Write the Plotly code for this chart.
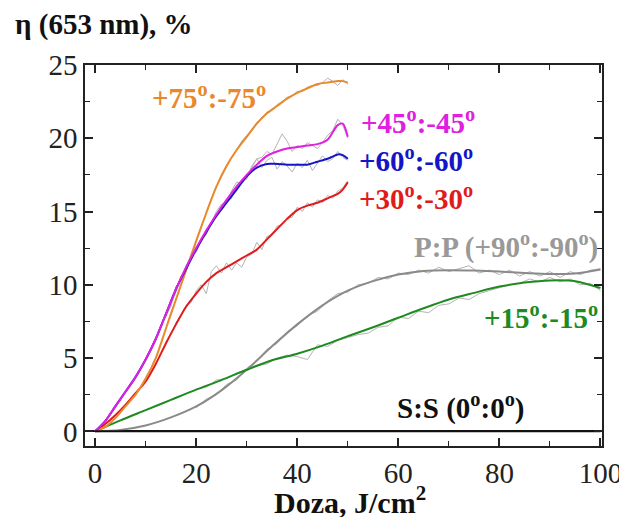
import plotly.graph_objects as go

# ---------------- data ----------------
# smoothed (fitted) curves, 0-50 J/cm2 series
dose_short = [0, 2, 4, 6, 8, 10, 12, 14, 16, 18, 20, 22, 24, 26, 28, 30, 32, 34, 36, 38, 40, 42, 44, 46, 47, 48, 49, 50]
fit_75 = [0, 0.3, 0.9, 1.7, 2.5, 3.6, 5.0, 7.0, 9.0, 11.0, 13.0, 14.9, 16.7, 18.1, 19.2, 20.1, 21.0, 21.7, 22.2, 22.7, 23.1, 23.4, 23.7, 23.8, 23.85, 23.9, 23.9, 23.8]
fit_45 = [0, 0.7, 1.7, 2.7, 3.7, 4.9, 6.3, 8.0, 9.7, 11.2, 12.5, 13.7, 14.8, 15.8, 16.7, 17.5, 18.2, 18.8, 19.1, 19.3, 19.4, 19.5, 19.6, 19.9, 20.4, 20.9, 21.0, 20.1]
fit_60 = [0, 0.7, 1.7, 2.7, 3.7, 4.9, 6.3, 8.0, 9.7, 11.1, 12.4, 13.6, 14.7, 15.6, 16.5, 17.4, 18.0, 18.25, 18.25, 18.2, 18.2, 18.2, 18.4, 18.6, 18.75, 18.9, 18.85, 18.6]
fit_30 = [0, 0.5, 1.1, 1.8, 2.6, 3.4, 4.6, 6.0, 7.3, 8.5, 9.4, 10.2, 10.8, 11.2, 11.6, 12.0, 12.4, 13.1, 13.8, 14.5, 15.1, 15.4, 15.6, 15.9, 16.05, 16.2, 16.5, 17.0]

# smoothed curves, 0-100 J/cm2 series
dose_long = [0, 5, 10, 15, 20, 25, 30, 35, 40, 45, 50, 55, 60, 65, 70, 75, 80, 85, 90, 95, 100]
fit_90 = [0, 0.1, 0.4, 0.95, 1.7, 2.8, 4.2, 5.8, 7.3, 8.6, 9.6, 10.25, 10.7, 10.95, 11.0, 10.97, 10.9, 10.8, 10.73, 10.78, 11.05]
fit_15 = [0, 0.75, 1.45, 2.15, 2.85, 3.5, 4.2, 4.85, 5.3, 5.85, 6.5, 7.1, 7.75, 8.4, 9.0, 9.45, 9.88, 10.15, 10.3, 10.25, 9.78]

# S:S (0:0) series
dose_ss = [0, 100]
eff_ss = [0, 0]

# raw (measured) curves
raw_dose_short = list(range(14, 51))
raw_75 = [7.0, 8.1, 9.0, 10.0, 11.0, 12.0, 13.0, 14.0, 14.9, 15.9, 16.7, 17.4, 18.1, 18.7, 19.2, 19.8,
          20.2, 20.5, 21.1, 21.3, 21.8, 21.9, 22.3, 22.5, 22.8, 22.9, 23.2, 23.2, 23.5, 23.6, 23.6, 23.8, 24.1, 23.9, 23.6, 24.0, 23.7]
raw_45 = [7.9, 8.5, 9.9, 10.3, 11.3, 11.9, 12.6, 13.0, 13.8, 14.2, 15.0, 15.5, 15.6, 16.4, 17.0, 16.9,
          17.3, 18.0, 18.6, 18.7, 19.1, 18.9, 19.6, 20.3, 19.8, 19.1, 19.5, 19.3, 19.7, 19.5, 19.3, 19.7, 20.2, 20.5, 21.3, 20.9, 20.0]
raw_60 = [7.8, 8.7, 9.5, 10.6, 10.9, 12.0, 12.2, 13.1, 13.4, 14.3, 14.6, 15.4, 15.7, 15.9, 16.8, 17.1,
          17.2, 18.1, 18.6, 18.0, 18.5, 18.7, 17.9, 18.4, 18.1, 17.7, 18.3, 18.0, 18.5, 17.8, 18.3, 18.8, 18.4, 18.6, 19.1, 18.7, 18.5]
raw_30 = [6.1, 6.6, 7.4, 7.9, 8.6, 8.8, 9.6, 10.0, 9.4, 10.9, 11.3, 10.8, 11.5, 11.0, 11.5, 11.2,
          11.9, 12.1, 12.9, 12.4, 13.3, 13.4, 14.0, 14.1, 14.6, 14.6, 15.3, 15.0, 15.6, 15.3, 15.8, 15.6, 16.1, 15.9, 16.4, 16.6, 17.1]

raw_dose_long = list(range(20, 101, 2))
raw_90 = [1.6, 2.2, 2.5, 3.2, 3.5, 4.3, 4.8, 5.6, 6.0, 6.8,
          7.2, 7.9, 8.2, 8.9, 9.4, 9.5, 10.0, 10.1, 10.5, 10.4,
          10.8, 10.7, 11.0, 10.8, 11.2, 10.9, 11.1, 11.3, 10.8, 11.0,
          10.7, 11.0, 10.6, 10.9, 10.6, 10.9, 10.5, 10.9, 10.7, 11.0, 11.1]
raw_15 = [2.9, 3.0, 3.5, 3.6, 4.0, 4.2, 4.5, 4.6, 5.0, 5.2,
          5.1, 4.9, 5.9, 5.8, 6.2, 6.4, 6.6, 6.7, 7.1, 7.2,
          7.8, 7.7, 8.2, 8.1, 8.6, 8.7, 9.1, 9.0, 9.4, 9.6,
          9.8, 10.0, 10.1, 10.4, 10.2, 10.5, 10.2, 10.4, 10.0, 10.1, 9.6]

# ---------------- styling ----------------
FONT = "Liberation Serif"
C75, C45, C60, C30 = "#E8892C", "#E020E0", "#1515C8", "#E01B1B"
C90, C15, CSS = "#8A8A8A", "#1F8A1F", "#111111"
RAW = "#B4B4B4"

fig = go.Figure()

raw_sets = [(raw_dose_short, raw_75), (raw_dose_short, raw_45), (raw_dose_short, raw_60),
            (raw_dose_short, raw_30), (raw_dose_long, raw_90), (raw_dose_long, raw_15)]
for xs, ys in raw_sets:
    fig.add_trace(go.Scatter(x=xs, y=ys, mode="lines", line=dict(color=RAW, width=1),
                             showlegend=False, hoverinfo="skip"))

fit_sets = [(dose_long, fit_90, C90), (dose_long, fit_15, C15), (dose_short, fit_30, C30),
            (dose_short, fit_75, C75), (dose_short, fit_60, C60), (dose_short, fit_45, C45)]
for xs, ys, c in fit_sets:
    fig.add_trace(go.Scatter(x=xs, y=ys, mode="lines", line=dict(color=c, width=2, shape="spline", smoothing=0.8),
                             showlegend=False))

fig.add_trace(go.Scatter(x=dose_ss, y=eff_ss, mode="lines", line=dict(color=CSS, width=2), showlegend=False))

deg = "<sup>o</sup>"
labels = [
    (10.9, 22.9, "left", f"+75{deg}:-75{deg}", C75),
    (52.2, 21.15, "left", f"+45{deg}:-45{deg}", C45),
    (51.8, 18.6, "left", f"+60{deg}:-60{deg}", C60),
    (51.8, 15.96, "left", f"+30{deg}:-30{deg}", C30),
    (99.9, 12.7, "right", f"P:P (+90{deg}:-90{deg})", "#999999"),
    (99.9, 7.85, "right", f"+15{deg}:-15{deg}", C15),
    (72.3, 1.67, "center", f"S:S (0{deg}:0{deg})", CSS),
]
for x, y, anc, txt, c in labels:
    fig.add_annotation(x=x, y=y, xref="x", yref="y", text=txt, showarrow=False,
                       xanchor=anc, yanchor="middle",
                       font=dict(family=FONT, size=29, color=c, weight="bold"))

fig.add_annotation(x=-0.139, y=1.105, xref="paper", yref="paper", text="η (653 nm), %",
                   showarrow=False, xanchor="left", yanchor="middle",
                   font=dict(family=FONT, size=29, color="#111", weight="bold"))
fig.add_annotation(x=0.513, y=-0.142, xref="paper", yref="paper", text="Doza, J/cm<sup>2</sup>",
                   showarrow=False, xanchor="center", yanchor="middle",
                   font=dict(family=FONT, size=30, color="#111", weight="bold"))

axis_common = dict(showline=True, linecolor="#222", linewidth=1.5, mirror="ticks",
                   ticks="inside", ticklen=8, tickwidth=1.5, tickcolor="#222",
                   showgrid=False, automargin=False,
                   tickfont=dict(family=FONT, size=29, color="#222"))

fig.update_xaxes(range=[-2, 100.3], dtick=20, tick0=0, zeroline=False,
                 minor=dict(dtick=10, ticks="inside", ticklen=5, tickwidth=1.2, tickcolor="#222"),
                 **axis_common)
fig.update_yaxes(range=[-1, 25], dtick=5, tick0=0, zeroline=True, zerolinecolor="#111", zerolinewidth=2,
                 minor=dict(dtick=2.5, ticks="inside", ticklen=5, tickwidth=1.2, tickcolor="#222"),
                 **axis_common)

# the page body adds an 8 px offset, so the figure is 8 px smaller than the window
fig.update_layout(width=619, height=509, margin=dict(l=77, r=25, t=57, b=71),
                  plot_bgcolor="white", paper_bgcolor="white", showlegend=False)

fig.write_html("out.html")
